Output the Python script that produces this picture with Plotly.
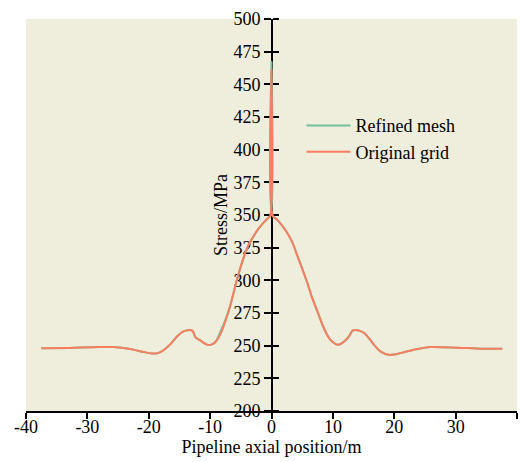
import plotly.graph_objects as go

# Original grid
x_orig = [-37.5, -33, -29, -25.8, -23, -21, -19.5, -18.5, -17.6, -16.5, -15.4, -14.5, -14, -13.1, -12.8,
          -12.4, -11.6, -10.5, -9.8, -9.1, -8.3, -7.5, -6.7, -5.6, -4.5, -3.7, -2.9, -2.2, -1.5, -0.6, -0.2,
          0, 0.2, 0.9, 1.7, 2.6, 3.4, 4.2, 5.0, 5.8, 6.6, 7.5, 8.3, 9.1, 9.6, 10.2, 10.7, 11.5, 12.6, 13.2,
          13.7, 14.3, 15.1, 15.9, 16.7, 17.8, 19.1, 20.3, 21.6, 23.8, 25.9, 30.3, 34.1, 37.6]
y_orig = [248, 248.3, 248.8, 249, 247.5, 245.3, 244, 244.3, 246.5, 251, 257, 260.5, 261.5, 261.8, 261,
          256.5, 254, 250.8, 250.8, 253, 259, 269, 281, 301, 318, 327.5, 334, 339, 343, 347.5, 349.5,
          461, 349.5, 346.5, 342, 336, 329, 319, 309, 298.5, 287, 276, 266, 258, 254.5, 252, 250.7, 252,
          257, 261.5, 262, 261.5, 259.7, 255.5, 250.7, 245.5, 243, 243.5, 245, 247.5, 249, 248.5, 247.7, 247.7]

# Refined mesh
x_ref = [-37.5, -33, -29, -25.8, -23, -21, -19.5, -18.5, -17.6, -16.5, -15.4, -14.5, -14, -13.1, -12.8,
         -12.4, -11.6, -10.5, -9.8, -9.1, -8.3, -7.5, -6.7, -5.6, -4.5, -3.7, -2.9, -2.2, -1.5, -0.6, -0.15,
         0, 0.15, 0.9, 1.7, 2.6, 3.4, 4.2, 5.0, 5.8, 6.6, 7.5, 8.3, 9.1, 9.6, 10.2, 10.7, 11.5, 12.6, 13.2,
         13.7, 14.3, 15.1, 15.9, 16.7, 17.8, 19.1, 20.3, 21.6, 23.8, 25.9, 30.3, 34.1, 37.6]
y_ref = [248, 248.3, 248.8, 249, 247.5, 245.3, 244, 244.3, 246.5, 251, 257, 260.5, 261.5, 261.8, 261,
         256.5, 254, 250.8, 250.8, 253, 261, 270, 281, 301, 318, 327.5, 334, 339, 343, 347.5, 349.5,
         467, 349.5, 346.5, 342, 336, 329, 319, 309, 298.5, 287, 276, 266, 258, 254.5, 252, 250.7, 252,
         257, 261.5, 262, 261.5, 259.7, 255.5, 250.7, 245.5, 243, 243.5, 245, 247.5, 249, 248.5, 247.7, 247.7]

x_ticks = [-40, -30, -20, -10, 0, 10, 20, 30, 40]
x_tick_text = ["-40", "-30", "-20", "-10", "0", "10", "20", "30", "40"]
y_ticks = [200, 225, 250, 275, 300, 325, 350, 375, 400, 425, 450, 475, 500]

FONT = "Liberation Serif"
GREEN = "#72C19E"
ORANGE = "#F97E60"

fig = go.Figure()
fig.add_trace(go.Scatter(x=x_ref, y=y_ref, mode="lines", name="Refined mesh",
                         line=dict(color=GREEN, width=2, shape="spline", smoothing=0.8)))
fig.add_trace(go.Scatter(x=x_orig, y=y_orig, mode="lines", name="Original grid",
                         line=dict(color=ORANGE, width=2, shape="spline", smoothing=0.8)))
# invisible trace to activate the overlay axis (for crossing ticks)
fig.add_trace(go.Scatter(x=[None], y=[None], yaxis="y2", showlegend=False, hoverinfo="skip"))

fig.update_layout(
    width=522, height=462,
    margin=dict(l=26, r=5, t=19, b=51, autoexpand=False),
    paper_bgcolor="white",
    plot_bgcolor="#EFEDDB",
    font=dict(family=FONT, size=18, color="black"),
    xaxis=dict(range=[-40, 40], tickvals=x_ticks, ticktext=x_tick_text, automargin=False,
               showgrid=False, zeroline=False, showline=True, linecolor="black", linewidth=2,
               ticks="outside", ticklen=6, tickwidth=2, tickcolor="black", ticklabelstandoff=-8,
               title=dict(text="Pipeline axial position/m", standoff=0,
                          font=dict(family=FONT, size=18, color="black"))),
    yaxis=dict(range=[200, 500], tickvals=y_ticks, anchor="free", position=0.5, automargin=False,
               showgrid=False, zeroline=False, showline=True, linecolor="black", linewidth=2,
               ticks="outside", ticklen=6.5, tickwidth=2, tickcolor="black", layer="below traces",
               title=dict(text="Stress/MPa", standoff=0,
                          font=dict(family=FONT, size=18, color="black"))),
    yaxis2=dict(range=[200, 500], tickvals=y_ticks, anchor="free", position=0.5, overlaying="y",
                side="right", showgrid=False, zeroline=False, showline=False, showticklabels=False,
                automargin=False, layer="below traces",
                ticks="outside", ticklen=6.5, tickwidth=2, tickcolor="black"),
    legend=dict(x=0.561, y=0.775, xanchor="left", yanchor="top", bgcolor="rgba(0,0,0,0)",
                font=dict(family=FONT, size=18), itemwidth=44, tracegroupgap=0),
    showlegend=True,
)

fig.write_html("out.html", config={"displayModeBar": False},
               post_script="document.body.style.margin='0';")
